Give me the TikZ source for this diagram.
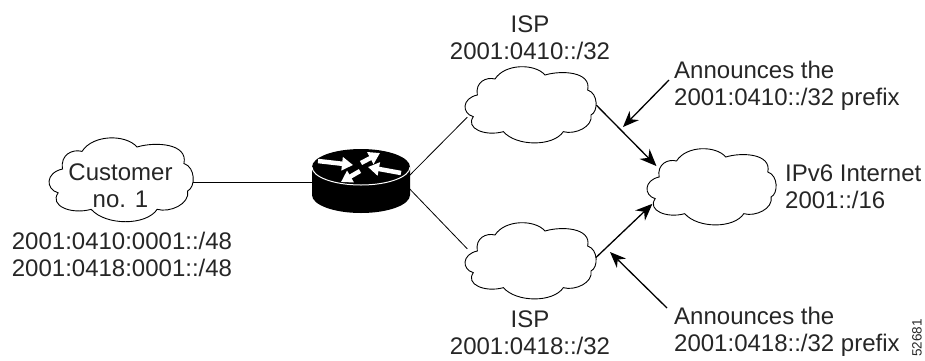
\documentclass[tikz,border=0pt]{standalone}
\usepackage{fontspec}
\setmainfont{Liberation Sans}
\usetikzlibrary{arrows.meta, positioning, shapes.geometric}

% one cloud outline, in units of a third of a pixel round its centre
\newcommand{\cloudpath}{(-170,35) .. controls (-205,25) and (-205,-20) .. (-158,-30)
  .. controls (-165,-70) and (-130,-85) .. (-105,-78)
  .. controls (-75,-125) and (15,-125) .. (45,-90)
  .. controls (95,-105) and (185,-100) .. (173,-45)
  .. controls (205,-35) and (205,20) .. (183,30)
  .. controls (190,65) and (135,90) .. (100,80)
  .. controls (70,125) and (-40,125) .. (-80,80)
  .. controls (-135,95) and (-195,70) .. (-170,35) -- cycle}

\begin{document}
\begin{tikzpicture}[
        x=1pt, y=-1pt,
        every node/.style={inner sep=0pt, font=\fontsize{24}{27}\selectfont, text=black!85},
        cloudbox/.style={ellipse, minimum width=132pt, minimum height=76pt},
        label/.style={align=center},
        note/.style={align=left},
        link/.style={draw, line width=0.8pt},
        cloudline/.style={draw, fill=white, line width=0.9pt, xscale=1/3, yscale=1/3},
        announce/.style={draw, line width=1.3pt, -{Stealth[length=16pt, width=13pt]}},
        flow/.style={draw, line width=1.3pt, -{Stealth[length=17pt, width=14pt]}},
        turn/.style={draw=white, line width=4.5pt, -{Triangle[length=11pt, width=13pt]}},
        node distance=7pt and 5pt
        ]
        \useasboundingbox (0,0) rectangle (925,360);

        % Nodes
        \node (customer) at (120.5,180) [cloudbox, minimum width=145pt, minimum height=84pt] {};
        \node (router) at (361,180) [minimum width=98pt, minimum height=65pt] {};
        \node (ispa) at (530,105) [cloudbox] {};
        \node (ispb) at (530,261) [cloudbox] {};
        \node (internet) at (711,187) [cloudbox, minimum width=130pt] {};
        \coordinate (port) at ([xshift=42pt, yshift=-2pt]router.center);
        \coordinate (tapa) at (623,127);
        \coordinate (tapb) at (610,252);

        % Labels
        \node (customernets) at (122,254) [label] {2001:0410:0001::/48\\2001:0418:0001::/48};
        \node (ispatext) [label, above=of ispa] {ISP\\2001:0410::/32};
        \node (ispbtext) [label, below=11pt of ispb] {ISP\\2001:0418::/32};
        \node (internettext) at (785,187) [note, anchor=west] {IPv6 Internet\\2001::/16};
        \node (notea) at (674,85.5) [note, anchor=west] {Announces the\\2001:0410::/32 prefix};
        \node (noteb) at (674,332) [note, anchor=west] {Announces the\\2001:0418::/32 prefix};
        \node (figno) at (917,338) [rotate=90, font=\fontsize{13.5}{14}\selectfont] {52681};

        % Links
        \draw [link] ([yshift=-2pt]customer.east) -- ([yshift=-2pt]router.west);
        \draw [link] (port) -- (ispa.191);
        \draw [link] (port) -- (ispb.169);

        % Clouds and router go over the link ends
        \foreach \name/\sx/\sy in {customer/1.1/1.1, ispa/1/1, ispb/1/1, internet/0.985/1}
            \path [cloudline, shift={(\name)}, xscale=\sx, yscale=\sy] \cloudpath;
        \node (customertext) at (120.5,186) [label] {Customer\\no. 1};

        \begin{scope}[shift={(router.center)}]
            \fill [black] (-49,-13) -- (-49,15) arc [start angle=180, end angle=360, x radius=49, y radius=-18]
                -- (49,-13) arc [start angle=0, end angle=180, x radius=49, y radius=-18] -- cycle;
            \draw [white, line width=1pt] (-49,-13) arc [start angle=180, end angle=360, x radius=49, y radius=-18];
            \draw [turn] (-43,-19) -- (-8,-15);
            \draw [turn] (0,-17) -- (19,-27);
            \draw [turn] (40,-7) -- (7,-13);
            \draw [turn] (-1,-9) -- (-20,2);
        \end{scope}

        % Arrows
        \draw [flow] (ispa.east) -- (internet.159);
        \draw [flow] (ispb.3) -- (internet.196);
        \draw [announce] ([xshift=-5pt, yshift=5.5pt]notea.west) -- (tapa);
        \draw [announce] ([xshift=-7pt, yshift=24pt]noteb.west) -- (tapb);
    \end{tikzpicture}
\end{document}
